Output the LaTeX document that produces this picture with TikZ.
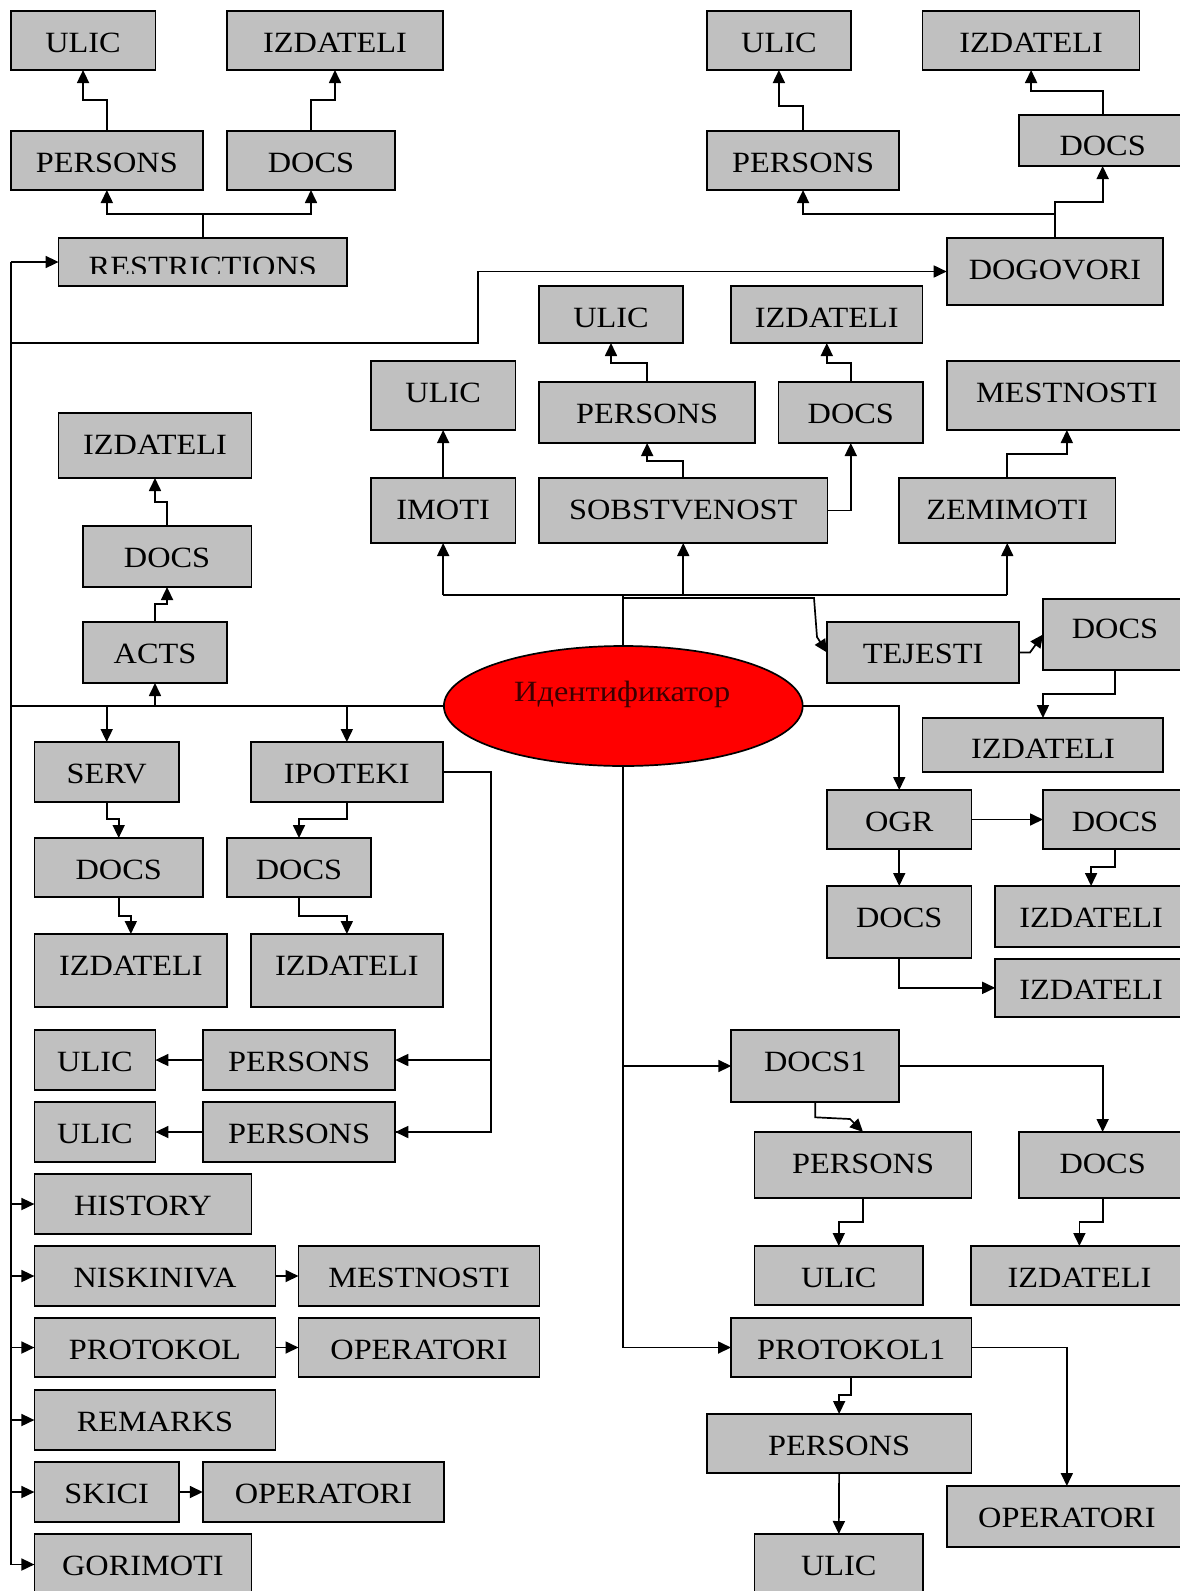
\documentclass[tikz,border=0pt]{standalone}
\usepackage{fontspec}
\setmainfont{Liberation Serif}[FakeStretch=1.1]
\usetikzlibrary{arrows.meta,shapes.geometric}
\definecolor{boxgray}{HTML}{C0C0C0}
\definecolor{txtred}{HTML}{3C0000}
\newcommand\bx[7][41]{%
  \node[boxst, minimum width={(#5-#3)*0.5pt}, minimum height={(#6-#4)*0.5pt}] (#2) at ({(#3+#5)/2},{(#4+#6)/2}) {};
  \node[lblst] (#2t) at ({(#3+#5)/2},{#4+#1}) {#7};}
\begin{document}
\begin{tikzpicture}[x=0.5pt,y=-0.5pt,
  boxst/.style={rectangle, draw=black, fill=boxgray, line width=0.85pt, inner sep=0pt, outer sep=0pt},
  lblst/.style={anchor=base, inner sep=0pt, font=\fontsize{14.7pt}{17pt}\selectfont},
  ln/.style={line width=0.85pt},
  arr/.style={ln, -{Triangle[length=6.5pt,width=6pt]}},
  mainln/.style={line width=1.4pt}]
\useasboundingbox (0,0) rectangle (1179,1591);
% ---------- nodes ----------
\bx{u1}{10.7}{11}{155.4}{70}{ULIC}
\bx{iz1}{227}{11}{443}{70}{IZDATELI}
\bx{p1}{10.7}{131}{203}{190}{PERSONS}
\bx{d1}{227}{131}{395}{190}{DOCS}
\node[boxst, minimum width={(347-58.6)*0.5pt}, minimum height={(286-238)*0.5pt}] (res) at ({(58.6+347)/2},262) {};
\begin{scope}
\clip (58.6,238) rectangle (347,273.7);
\node[lblst] (rest) at ({(58.6+347)/2},276) {RESTRICTIONS};
\end{scope}
\bx{u2}{706.8}{11}{851}{70}{ULIC}
\bx{iz2}{922.6}{11}{1139.6}{70}{IZDATELI}
\bx{p2}{706.8}{131}{899.3}{190}{PERSONS}
\bx[40]{d2}{1019.3}{115}{1186}{166}{DOCS}
\bx{dog}{946.7}{238}{1163.3}{305}{DOGOVORI}
\bx{u3}{539}{286}{683}{343}{ULIC}
\bx{iz3}{731}{286}{922.6}{343}{IZDATELI}
\bx{p3}{539}{382}{755.3}{443}{PERSONS}
\bx{d3}{778.6}{382}{923}{443}{DOCS}
\bx{u5}{370.8}{361}{515.5}{430}{ULIC}
\bx{im}{370.8}{478}{515.5}{543}{IMOTI}
\bx{sob}{539}{478}{827.5}{543}{SOBSTVENOST}
\bx{mes1}{946.7}{361}{1187}{430}{MESTNOSTI}
\bx{zem}{899}{478}{1115.5}{543}{ZEMIMOTI}
\bx{iz4}{58.6}{413}{251.4}{478}{IZDATELI}
\bx{d4}{82.7}{526}{251.4}{587}{DOCS}
\bx{acts}{82.7}{622}{227.3}{683}{ACTS}
\bx{tej}{827}{622}{1019.3}{683}{TEJESTI}
\bx[39]{d5}{1043}{599}{1187}{670}{DOCS}
\bx[40]{iz5}{922.6}{718}{1163.3}{772}{IZDATELI}
\node[ellipse, draw=black, fill=red, line width=0.85pt, minimum width=179.4pt, minimum height=60pt, inner sep=0pt, outer sep=0pt] (ell) at (623.3,706) {};
\node[lblst, text=txtred] (ellt) at (622.2,701.7) {Идентификатор};
\bx{serv}{34.4}{742}{179}{802}{SERV}
\bx{ip}{250.7}{742}{443}{802}{IPOTEKI}
\bx{d6}{34.4}{838}{203}{897}{DOCS}
\bx{d7}{227}{838}{371}{897}{DOCS}
\bx{iz6}{34.4}{934}{227.3}{1007}{IZDATELI}
\bx{iz7}{250.7}{934}{443}{1007}{IZDATELI}
\bx{u7}{34.4}{1030}{155.4}{1090}{ULIC}
\bx{p4}{202.8}{1030}{395.3}{1090}{PERSONS}
\bx{u8}{34.4}{1102}{155.4}{1162}{ULIC}
\bx{p5}{202.8}{1102}{395.3}{1162}{PERSONS}
\bx{hist}{34.4}{1174}{251.4}{1234}{HISTORY}
\bx{nis}{34.4}{1246}{275.5}{1306}{NISKINIVA}
\bx{mes2}{298.5}{1246}{539.6}{1306}{MESTNOSTI}
\bx{prot}{34.4}{1318}{275.5}{1377}{PROTOKOL}
\bx{op1}{298.5}{1318}{539.6}{1377}{OPERATORI}
\bx{rem}{34.4}{1390}{275.5}{1450}{REMARKS}
\bx{sk}{34.4}{1462}{179}{1522}{SKICI}
\bx{op2}{202.8}{1462}{444}{1522}{OPERATORI}
\bx{gor}{34.4}{1534}{251.4}{1595}{GORIMOTI}
\bx{ogr}{827}{790}{971.5}{849}{OGR}
\bx{d8}{1043}{790}{1187}{849}{DOCS}
\bx{d9}{827}{886}{971.5}{958}{DOCS}
\bx{iz8}{995.2}{886}{1187}{947}{IZDATELI}
\bx{iz9}{995.2}{958.7}{1187}{1017}{IZDATELI}
\bx{dc1}{731.3}{1030}{899.3}{1102}{DOCS1}
\bx{p6}{754.6}{1132}{971.5}{1198}{PERSONS}
\bx{d10}{1019.3}{1132}{1186}{1198}{DOCS}
\bx{u9}{754.6}{1246}{923}{1305}{ULIC}
\bx{iz10}{970.8}{1246}{1188}{1305}{IZDATELI}
\bx{pr1}{731}{1318}{971.5}{1377}{PROTOKOL1}
\bx{p7}{706.8}{1414}{971.5}{1473}{PERSONS}
\bx{op3}{946.7}{1486}{1187}{1547}{OPERATORI}
\bx{u10}{754.6}{1534}{923}{1600}{ULIC}
% ---------- connectors ----------
\coordinate (trT) at (10.7,262);
\coordinate (trB) at (10.7,1564.5);
\draw[ln] (trT) -- (trB);
\draw[arr] (trT) -- (res.west);
\draw[arr] (trT |- 0,343) -- (478,343) -- (478,271.5) -- (dog.west);
\draw[mainln] (ell.west) -- (trT |- ell.west);
% top-left group
\draw[arr] (p1.north) -- (p1.north |- 0,100) -| (u1.south);
\draw[arr] (d1.north) -- (d1.north |- 0,100) -| (iz1.south);
\draw[ln] (res.north) -- (res.north |- 0,214);
\draw[arr] (res.north |- 0,214) -| (p1.south);
\draw[arr] (res.north |- 0,214) -| (d1.south);
% top-right group
\draw[arr] (p2.north) -- (p2.north |- 0,106) -| (u2.south);
\draw[arr] (d2.north) -- (d2.north |- 0,91) -| (iz2.south);
\draw[ln] (dog.north) -- (dog.north |- 0,214);
\draw[arr] (dog.north |- 0,214) -| (p2.south);
\draw[arr] (dog.north |- 0,214) -- (dog.north |- 0,202) -| (d2.south);
% middle group
\draw[arr] (p3.north) -- (p3.north |- 0,363) -| (u3.south);
\draw[arr] (d3.north) -- (d3.north |- 0,363) -| (iz3.south);
\draw[arr] (sob.north) -- (sob.north |- 0,461) -| (p3.south);
\draw[arr] (sob.east) -| (d3.south);
\draw[arr] (im.north) -- (u5.south);
\draw[arr] (zem.north) -- (zem.north |- 0,454) -| (mes1.south);
% ellipse top branch
\draw[ln] (ell.north) -- (ell.north |- 0,595);
\draw[ln] (im.south |- 0,595) -- (zem.south |- 0,595);
\draw[arr] (im.south |- 0,595) -- (im.south);
\draw[arr] (sob.south |- 0,595) -- (sob.south);
\draw[arr] (zem.south |- 0,595) -- (zem.south);
\draw[arr] (ell.north |- 0,598) -- (814,598) -- (817,637) -- (tej.west);
\draw[arr] (tej.east) -- (1030,652.5) -- (d5.west);
\draw[arr] (d5.south) -- (d5.south |- 0,694) -| (iz5.north);
% acts chain
\draw[arr] (acts.south |- ell.west) -- (acts.south);
\draw[arr] (acts.north) -- (acts.north |- 0,604) -| (d4.south);
\draw[arr] (d4.north) -- (d4.north |- 0,502) -| (iz4.south);
% serv / ipoteki
\draw[arr] (serv.north |- ell.west) -- (serv.north);
\draw[arr] (ip.north |- ell.west) -- (ip.north);
\draw[arr] (serv.south) -- (serv.south |- 0,819) -| (d6.north);
\draw[arr] (d6.south) -- (d6.south |- 0,916) -| (iz6.north);
\draw[arr] (ip.south) -- (ip.south |- 0,819) -| (d7.north);
\draw[arr] (d7.south) -- (d7.south |- 0,916) -| (iz7.north);
\draw[ln] (ip.east) -- ++(48,0) |- (p5.east);
\draw[arr] (ip.east) ++(48,0) |- (p4.east);
\draw[arr] (ip.east) ++(48,0) ++(0,360) -- (p5.east);
\draw[arr] (p4.west) -- (u7.east);
\draw[arr] (p5.west) -- (u8.east);
% left column
\foreach \n in {hist,nis,prot,rem,sk,gor} \draw[arr] (trT |- \n.west) -- (\n.west);
\draw[arr] (nis.east) -- (mes2.west);
\draw[arr] (prot.east) -- (op1.west);
\draw[arr] (sk.east) -- (op2.west);
% OGR group
\draw[arr] (ell.east) -| (ogr.north);
\draw[arr] (ogr.east) -- (d8.west);
\draw[arr] (ogr.south) -- (d9.north);
\draw[arr] (d8.south) -- (d8.south |- 0,867) -| (iz8.north);
\draw[arr] (d9.south) |- (iz9.west);
% bottom branch
\draw[ln] (ell.south) -- (ell.south |- pr1.west);
\draw[arr] (ell.south |- dc1.west) -- (dc1.west);
\draw[arr] (ell.south |- pr1.west) -- (pr1.west);
\draw[arr] (dc1.south) -- (815.3,1117.3) -- (850,1119) -- (p6.north);
\draw[arr] (dc1.east) -| (d10.north);
\draw[arr] (p6.south) -- (p6.south |- 0,1221.7) -| (u9.north);
\draw[arr] (d10.south) -- (d10.south |- 0,1221.7) -| (iz10.north);
\draw[arr] (pr1.south) -- (pr1.south |- 0,1395) -| (p7.north);
\draw[arr] (pr1.east) -| (op3.north);
\draw[arr] (p7.south) -- (u10.north);
\end{tikzpicture}
\end{document}
